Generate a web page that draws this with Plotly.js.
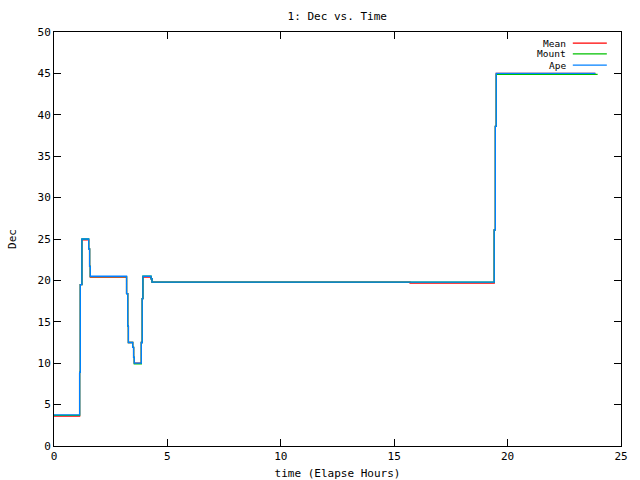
<!DOCTYPE html>
<html>
<head>
<meta charset="utf-8">
<script src="https://cdn.plot.ly/plotly-3.0.1.min.js"></script>
<style>html,body{margin:0;padding:0;background:#fff;}#chart{width:640px;height:480px;}</style>
</head>
<body>
<div id="chart"></div>
<script>
// Data (time in elapsed hours, Dec values)
const apeTime  = [0, 1.13, 1.16, 1.23, 1.53, 1.57, 1.60, 3.20, 3.25, 3.28, 3.47, 3.51, 3.54, 3.85, 3.89, 3.92, 4.28, 4.32, 19.41, 19.46, 19.50, 23.87];
const apeDec   = [3.75, 8.9, 19.5, 25.0, 23.8, 21.7, 20.5, 18.4, 14.5, 12.5, 11.9, 10.7, 10.0, 12.5, 17.8, 20.5, 20.2, 19.8, 26.1, 38.6, 45.0, 45.0];

const meanTime = [0, 1.13, 1.16, 1.23, 1.53, 1.57, 1.60, 3.20, 3.25, 3.28, 3.47, 3.51, 3.54, 3.85, 3.89, 3.92, 4.28, 4.32, 15.70, 19.41, 19.46, 19.50, 23.87];
const meanDec  = [3.6, 8.9, 19.5, 24.9, 23.8, 21.7, 20.4, 18.4, 14.5, 12.5, 11.9, 10.7, 10.0, 12.5, 17.8, 20.4, 20.2, 19.8, 19.66, 26.1, 38.6, 45.0, 45.0];

const mountTime = [0, 1.13, 1.16, 1.23, 1.53, 1.57, 1.60, 3.20, 3.25, 3.28, 3.47, 3.51, 3.54, 3.85, 3.89, 3.92, 4.28, 4.32, 19.41, 19.46, 19.50, 23.97];
const mountDec  = [3.7, 8.9, 19.5, 25.0, 23.8, 21.7, 20.45, 18.4, 14.5, 12.5, 11.9, 10.7, 9.93, 12.5, 17.8, 20.5, 20.2, 19.8, 26.1, 38.6, 44.88, 44.88];

const seriesNames = ["Mean", "Mount", "Ape"];
const seriesColors = ["#ff0000", "#00c000", "#0080ff"];

const xTicks = [0, 5, 10, 15, 20, 25];
const yTicks = [0, 5, 10, 15, 20, 25, 30, 35, 40, 45, 50];

const FONT = "DejaVu Sans Mono, monospace";

const traces = [
  {x: meanTime, y: meanDec, name: seriesNames[0]},
  {x: mountTime, y: mountDec, name: seriesNames[1]},
  {x: apeTime, y: apeDec, name: seriesNames[2]}
].map((t, i) => Object.assign(t, {
  type: "scatter", mode: "lines",
  line: {color: seriesColors[i], width: 1.3, shape: "hv"},
  showlegend: false, hoverinfo: "skip"
}));

// Legend drawn gnuplot-style: text left of the sample line
const legX0 = 0.915, legX1 = 0.975, legText = 0.905;
const legY = [0.973, 0.947, 0.920];
const annotations = seriesNames.map((n, i) => ({
  xref: "paper", yref: "paper", x: legText, y: legY[i],
  xanchor: "right", yanchor: "middle", text: n, showarrow: false,
  borderpad: 0,
  font: {family: FONT, size: 9.5, color: "#000"}
}));
const shapes = seriesNames.map((n, i) => ({
  type: "line", xref: "paper", yref: "paper",
  x0: legX0, x1: legX1, y0: legY[i], y1: legY[i],
  line: {color: seriesColors[i], width: 1.3}
}));

const axisCommon = {
  showgrid: false, zeroline: false, showline: true, linecolor: "#000", linewidth: 1,
  mirror: "allticks", ticks: "inside", ticklen: 7, tickcolor: "#000", tickwidth: 1,
  tickfont: {family: FONT, size: 11, color: "#000"}
};

const layout = {
  width: 640, height: 480,
  margin: {l: 54, r: 19, t: 32, b: 34},
  paper_bgcolor: "#fff", plot_bgcolor: "#fff",
  title: {text: "1: Dec vs. Time", font: {family: FONT, size: 11, color: "#000"},
          x: 0.527, xanchor: "center", y: 0.967, yanchor: "middle", yref: "container"},
  xaxis: Object.assign({}, axisCommon, {
    range: [0, 25], tickvals: xTicks, ticktext: xTicks.map(String),
    title: {text: "time (Elapse Hours)", font: {family: FONT, size: 11, color: "#000"}, standoff: 7}
  }),
  yaxis: Object.assign({}, axisCommon, {
    range: [0, 50], tickvals: yTicks, ticktext: yTicks.map(String),
    title: {text: "Dec", font: {family: FONT, size: 11, color: "#000"}, standoff: 18}
  }),
  annotations: annotations, shapes: shapes
};

Plotly.newPlot("chart", traces, layout, {displayModeBar: false, staticPlot: true});
</script>
</body>
</html>
